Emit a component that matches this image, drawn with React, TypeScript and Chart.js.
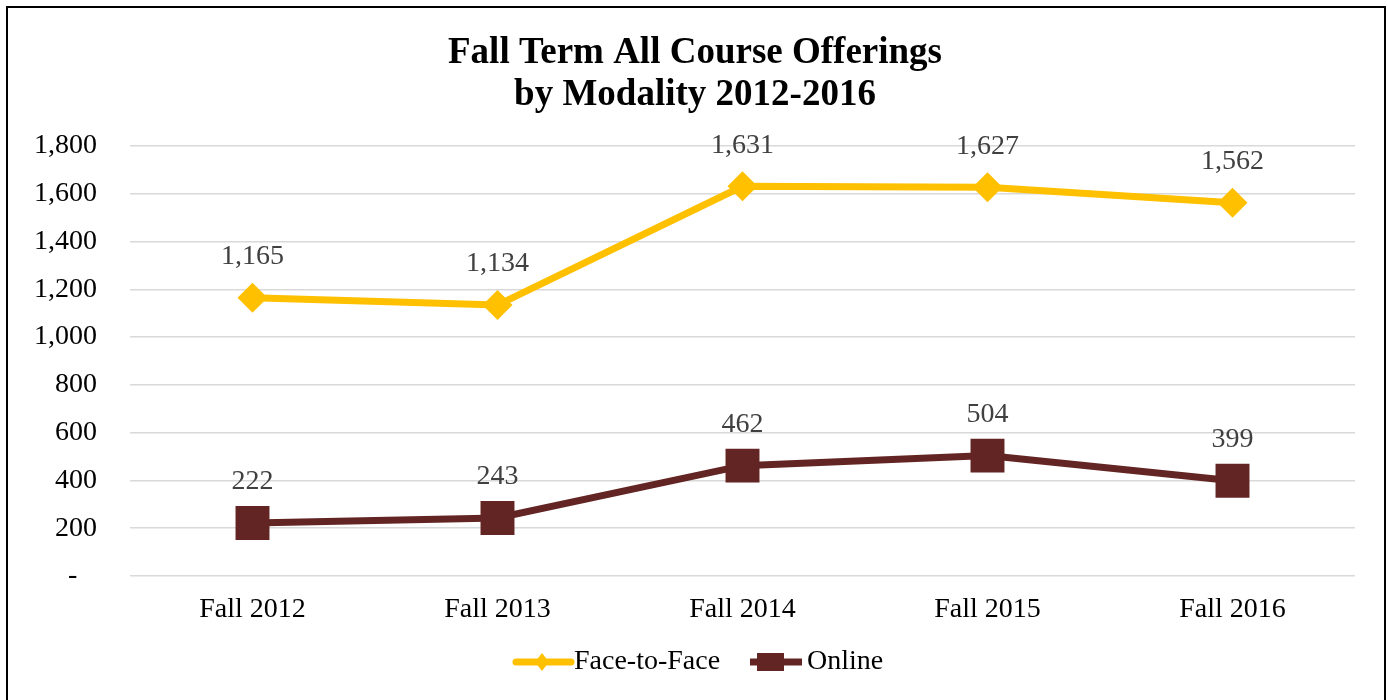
import React, { useEffect, useRef } from "react";
import { Chart, registerables } from "chart.js";

Chart.register(...registerables);

const categories = ["Fall 2012", "Fall 2013", "Fall 2014", "Fall 2015", "Fall 2016"];
const faceToFace = [1165, 1134, 1631, 1627, 1562];
const online = [222, 243, 462, 504, 399];
const seriesNames = ["Face-to-Face", "Online"];
const titleLines = ["Fall Term All Course Offerings", "by Modality 2012-2016"];

const YELLOW = "#FFC000";
const MAROON = "#632523";
const FONT = "'Liberation Serif', 'Times New Roman', serif";

const fmt = (v: number) => v.toLocaleString("en-US");

const customPlugin = {
  id: "custom",
  afterDatasetsDraw(chart: any) {
    const ctx = chart.ctx;
    ctx.save();
    ctx.font = `28px ${FONT}`;
    ctx.fillStyle = "#404040";
    ctx.textAlign = "center";
    ctx.textBaseline = "middle";
    chart.data.datasets.forEach((ds: any, i: number) => {
      const meta = chart.getDatasetMeta(i);
      meta.data.forEach((pt: any, j: number) => {
        ctx.fillText(fmt(ds.data[j]), pt.x, pt.y - 41);
      });
    });
    ctx.restore();
  },
  afterDraw(chart: any) {
    const ctx = chart.ctx;
    ctx.save();
    // title
    ctx.font = `bold 37px ${FONT}`;
    ctx.fillStyle = "#000";
    ctx.textAlign = "center";
    ctx.textBaseline = "alphabetic";
    ctx.fillText(titleLines[0], 687, 55);
    ctx.fillText(titleLines[1], 687, 97);
    // legend
    const ly = 654;
    ctx.lineWidth = 7;
    ctx.lineCap = "round";
    ctx.strokeStyle = YELLOW;
    ctx.beginPath();
    ctx.moveTo(508, ly);
    ctx.lineTo(563, ly);
    ctx.stroke();
    ctx.fillStyle = YELLOW;
    ctx.beginPath();
    ctx.moveTo(534, ly - 9);
    ctx.lineTo(541, ly);
    ctx.lineTo(534, ly + 9);
    ctx.lineTo(527, ly);
    ctx.closePath();
    ctx.fill();
    ctx.lineCap = "butt";
    ctx.strokeStyle = MAROON;
    ctx.beginPath();
    ctx.moveTo(742, ly);
    ctx.lineTo(794, ly);
    ctx.stroke();
    ctx.fillStyle = MAROON;
    ctx.fillRect(749, ly - 9, 27, 18);
    ctx.font = `28px ${FONT}`;
    ctx.fillStyle = "#000";
    ctx.textAlign = "left";
    ctx.textBaseline = "middle";
    ctx.fillText(seriesNames[0], 566, ly);
    ctx.fillText(seriesNames[1], 799, ly);
    ctx.restore();
  },
};

export default function App() {
  const ref = useRef<HTMLCanvasElement>(null);
  useEffect(() => {
    if (!ref.current) return;
    const chart = new Chart(ref.current, {
      type: "line",
      data: {
        labels: categories,
        datasets: [
          {
            label: seriesNames[0],
            data: faceToFace,
            borderColor: YELLOW,
            backgroundColor: YELLOW,
            borderWidth: 7,
            pointStyle: "rectRot",
            pointRadius: 15,
            pointHoverRadius: 15,
            pointBorderWidth: 0,
            tension: 0,
          },
          {
            label: seriesNames[1],
            data: online,
            borderColor: MAROON,
            backgroundColor: MAROON,
            borderWidth: 7,
            pointStyle: "rect",
            pointRadius: 24,
            pointHoverRadius: 24,
            pointBorderWidth: 0,
            tension: 0,
          },
        ],
      },
      options: {
        responsive: false,
        devicePixelRatio: 1,
        animation: false,
        layout: { padding: { left: 0, right: 29, top: 138, bottom: 0 } },
        plugins: {
          legend: { display: false },
          title: { display: false },
          tooltip: { enabled: false },
        },
        scales: {
          x: {
            offset: true,
            grid: { display: false, drawTicks: false },
            border: { display: false },
            ticks: { color: "#000", font: { family: FONT, size: 28 }, padding: 17, maxRotation: 0 },
            afterFit: (s: any) => {
              s.height = 124;
            },
          },
          y: {
            min: 0,
            max: 1800,
            grid: { color: "#d9d9d9", lineWidth: 1.5, drawTicks: false },
            border: { display: false },
            ticks: {
              stepSize: 200,
              color: "#000",
              font: { family: FONT, size: 28 },
              padding: 33,
              callback: (v: any) => (Number(v) === 0 ? "-\u00A0\u00A0\u2009" : fmt(Number(v))),
            },
            afterFit: (s: any) => {
              s.width = 122;
            },
          },
        },
      },
      plugins: [customPlugin],
    });
    return () => chart.destroy();
  }, []);

  return (
    <div style={{ position: "fixed", left: 0, top: 0, width: 1388, height: 700, overflow: "hidden", background: "#fff" }}>
      <div
        style={{
          position: "absolute",
          left: 6,
          top: 6,
          width: 1376,
          height: 720,
          border: "2px solid #000",
        }}
      >
        <canvas ref={ref} width={1376} height={692} style={{ display: "block", width: 1376, height: 692 }} />
      </div>
    </div>
  );
}
